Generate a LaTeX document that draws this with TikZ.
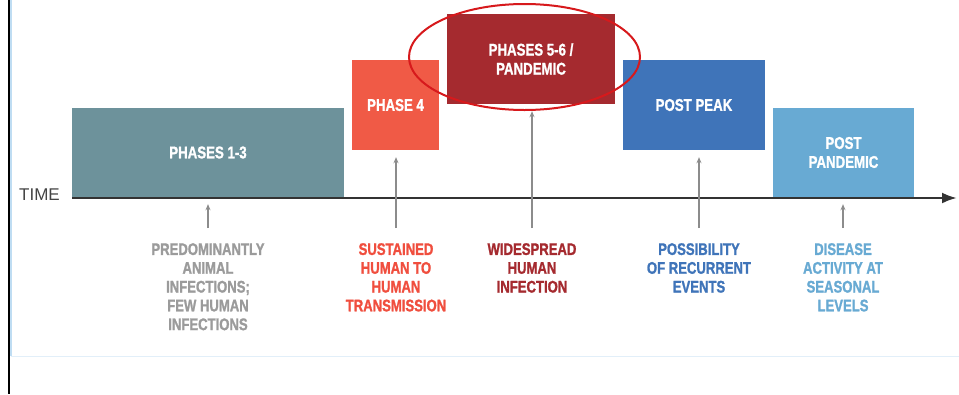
\documentclass[tikz,border=0pt]{standalone}
\usepackage{fontspec}
\setmainfont{Liberation Sans}
\newfontfamily\cond{Liberation Sans}[FakeStretch=0.78,BoldFeatures={FakeBold=1.2}]
\usetikzlibrary{arrows.meta,shapes.geometric}
\definecolor{cteal}{HTML}{6D929B}
\definecolor{ccoral}{HTML}{F05A46}
\definecolor{cdred}{HTML}{A52A2F}
\definecolor{cblue}{HTML}{3F74B9}
\definecolor{clblue}{HTML}{68AAD3}
\definecolor{cring}{HTML}{D7191C}
\definecolor{cgraytxt}{HTML}{9B9B9B}
\definecolor{credtxt}{HTML}{F04E3E}
\definecolor{carrow}{HTML}{8C8C8C}
\definecolor{caxis}{HTML}{333333}
\definecolor{ctime}{HTML}{444444}
\definecolor{cframe}{HTML}{E2EFF9}
\definecolor{cframev}{HTML}{BFDDF3}
\begin{document}
\begin{tikzpicture}[x=1pt,y=-1pt,
  phasebox/.style={draw=none,inner sep=0pt,text=white,align=center,
    font={\cond\bfseries\fontsize{17}{19}\selectfont}},
  lbl/.style={inner sep=0pt,anchor=north,align=center,
    font={\cond\bfseries\fontsize{16.8}{18.8}\selectfont}},
  uparrow/.style={draw=carrow,line width=1.1pt,-{Stealth[length=6pt,width=5pt]},
    shorten <=15pt,shorten >=7pt}]
\useasboundingbox (0,0) rectangle (959,394);
\fill[white] (0,0) rectangle (959,394);
% frame lines
\draw[line width=1.5pt,cframev] (11,0) -- (11,356);
\draw[line width=1pt,cframe] (11,356) -- (959,356);
\draw[line width=2pt,black] (8.5,0) -- (8.5,394);
% boxes
\node[phasebox,fill=cteal,minimum width=272pt,minimum height=89pt] (p13) at (208,152.5) {PHASES 1-3};
\node[phasebox,fill=ccoral,minimum width=87pt,minimum height=90pt] (p4) at (395.5,105) {PHASE 4};
\node[phasebox,fill=cdred,minimum width=168pt,minimum height=90pt] (p56) at (531,59) {PHASES 5-6 /\\PANDEMIC};
\node[phasebox,fill=cblue,minimum width=142pt,minimum height=90pt] (pp) at (694,105) {POST PEAK};
\node[phasebox,fill=clblue,minimum width=141pt,minimum height=89pt] (ppd) at (843.5,152.5) {POST\\PANDEMIC};
% ring
\node[ellipse,draw=cring,line width=2pt,minimum width=231pt,minimum height=106pt,inner sep=0pt] (ring) at (524.5,57) {};
% axis
\coordinate (axs) at (72,198);
\coordinate (axe) at (957,198);
\draw[caxis,line width=2.6pt,-{Latex[length=15pt,width=11pt]}] (axs) -- (axe);
\node[anchor=west,inner sep=0pt,text=ctime,font=\fontsize{17}{19}\selectfont] (time) at (19,194.5) {TIME};
% labels
\node[lbl,text=cgraytxt] (l13) at (208,243) {PREDOMINANTLY\\ANIMAL\\INFECTIONS;\\FEW HUMAN\\INFECTIONS};
\node[lbl,text=credtxt] (l4) at (396,243) {SUSTAINED\\HUMAN TO\\HUMAN\\TRANSMISSION};
\node[lbl,text=cdred] (l56) at (532,243) {WIDESPREAD\\HUMAN\\INFECTION};
\node[lbl,text=cblue] (lpp) at (699,243) {POSSIBILITY\\OF RECURRENT\\EVENTS};
\node[lbl,text=clblue] (lppd) at (843,243) {DISEASE\\ACTIVITY AT\\SEASONAL\\LEVELS};
% arrows
\draw[uparrow] (l13.north) -- (l13.north |- p13.south);
\draw[uparrow] (l4.north) -- (l4.north |- p4.south);
\draw[uparrow] (l56.north) -- (l56.north |- p56.south);
\draw[uparrow] (lpp.north) -- (lpp.north |- pp.south);
\draw[uparrow] (lppd.north) -- (lppd.north |- ppd.south);
\end{tikzpicture}
\end{document}
